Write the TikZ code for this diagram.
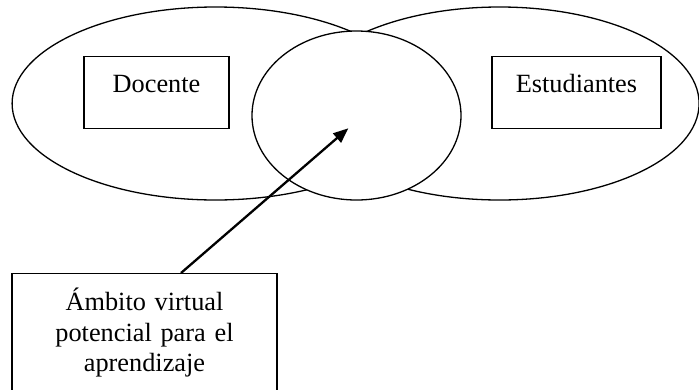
\documentclass[tikz,border=0pt]{standalone}
\usepackage{fontspec}
\setmainfont{Liberation Serif}
\usetikzlibrary{shapes.geometric,arrows.meta}
\begin{document}
\begin{tikzpicture}[x=1pt,y=-1pt,
  zone/.style={draw, line width=1.3pt, ellipse, inner sep=0pt, fill=white},
  tag/.style={draw, line width=1.3pt, rectangle, inner sep=0pt, fill=white,
    font=\fontsize{26.3}{30.5}\selectfont, text height=36pt, align=center},
  pointer/.style={line width=2.3pt, -{Triangle[length=15pt,width=12pt]}}]
\useasboundingbox (0,0) rectangle (699,389);
\clip (0,0) rectangle (699,389);
% the two groups and the shared zone between them
\node[zone, minimum width=407pt, minimum height=193pt] (docz) at (215.6,103.5) {};
\node[zone, minimum width=399pt, minimum height=193pt] (estz) at (499.6,103.5) {};
\node[zone, minimum width=209pt, minimum height=169pt] (virt) at (356.5,115.5) {};
% labels
\node[tag, anchor=north, text width=145pt, text depth=36pt] (doc) at (156.5,56) {Docente};
\node[tag, anchor=north, text width=169pt, text depth=36pt] (est) at (576.5,56) {Estudiantes};
\node[tag, anchor=north, text width=265pt, text height=37pt, text depth=130pt] (ambito) at (144.5,273)
  {Ámbito virtual\\potencial para el\\aprendizaje};
% pointer into the shared zone
\coordinate (tail) at (181,273);
\coordinate (tip) at (348.3,128.3);
\draw[pointer] (tail) -- (tip);
\end{tikzpicture}
\end{document}
